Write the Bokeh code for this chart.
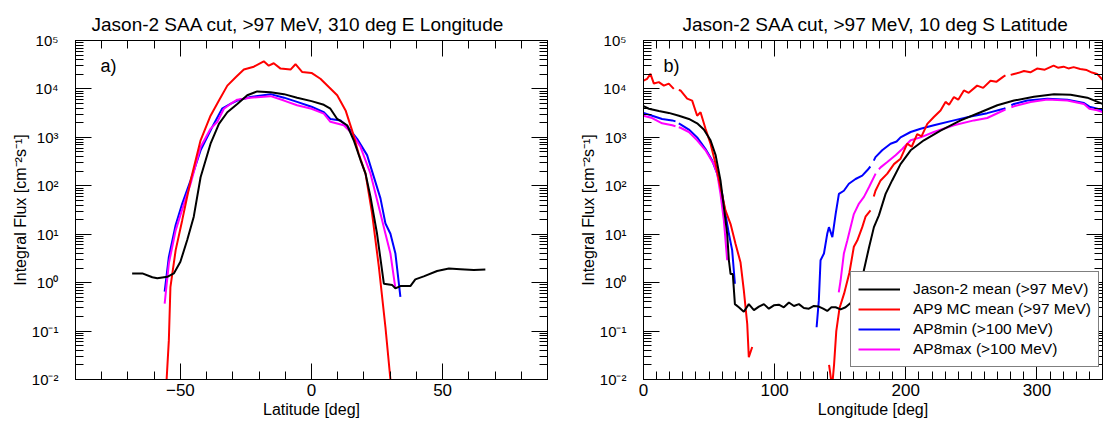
import math
from bokeh.plotting import figure
from bokeh.models import (FixedTicker, CustomJSTickFormatter, LinearAxis, LogAxis,
                          Legend, LegendItem, Label, Range1d)
from bokeh.layouts import row
from bokeh.embed import file_html
from bokeh.resources import INLINE

GAP = None
FONT = "Liberation Sans"

# ---------------- Panel a) : 310 deg E longitude, flux vs latitude ----------------
lat_jason = [-68.4, -64.5, -60.7, -58.8, -55.0, -52.5, -50.0, -47.4, -44.9, -42.3, -38.5, -35.3,
             -32.1, -28.3, -24.5, -20.7, -15.6, -10.5, -5.5, 0.0, 4.7, 7.2, 9.8, 13.6, 16.1,
             18.7, 20.6, 22.5, 25.0, 27.6, 30.8, 32.0, 33.9, 37.7, 39.6, 42.8, 47.9, 52.4,
             56.8, 61.9, 66.3]
flux_jason_a = [1.55, 1.55, 1.29, 1.23, 1.32, 1.55, 2.7, 7.6, 23, 150, 740, 1900,
                3300, 4900, 7400, 8900, 8500, 7800, 6600, 5600, 4700, 3900, 2400, 1780, 870,
                340, 178, 59, 10.2, 0.95, 0.89, 0.76, 0.85, 0.85, 1.17, 1.35, 1.74, 1.95,
                1.9, 1.82, 1.86]

lat_ap9 = [-55.8, -54.4, -53.8, -51.8, -49.3, -46.1, -42.3, -38.5, -35.3, -32.1, -28.9, -25.8,
           -22.0, -18.2, -16.3, -14.4, -11.8, -8.0, -6.1, -3.6, 0.0, 3.4, 6.6, 9.8, 13.0,
           15.5, 18.0, 20.6, 23.1, 25.7, 28.2, 30.1, 30.6]
flux_ap9_a = [0.003, 0.065, 0.81, 4.7, 19.5, 129, 870, 2800, 5750, 11700, 17400, 25100,
              28800, 37200, 30200, 33900, 26300, 25100, 32400, 22400, 21400, 16200, 11000, 7400, 3600,
              1380, 457, 178, 27, 2.1, 0.12, 0.01, 0.004]

lat_ap8min = [-56.0, -54.4, -51.8, -49.3, -46.1, -42.3, -37.9, -34.1, -30.9, -28.3, -23.3, -15.6,
              -10.5, -5.5, 0.0, 4.7, 7.2, 11.1, 13.6, 17.4, 21.2, 23.8, 26.3, 28.2, 30.1,
              32.0, 33.9]
flux_ap8min_a = [0.65, 3.4, 15.5, 43, 129, 540, 1620, 3900, 4900, 5750, 6800, 7800,
                 6600, 5400, 4300, 3300, 2400, 2240, 1700, 930, 430, 151, 55, 16.6, 10.2,
                 4.0, 0.51]

lat_ap8max = [-56.0, -54.4, -51.8, -48.6, -46.1, -42.3, -38.5, -35.9, -33.4, -30.9, -28.3, -23.3,
              -15.6, -10.5, -5.5, 0.0, 4.7, 7.2, 12.3, 15.5, 18.7, 22.5, 25.7, 28.2, 30.1, 32.0]
flux_ap8max_a = [0.37, 2.5, 12, 43, 110, 630, 1500, 2100, 3900, 4900, 6000, 6600,
                 7100, 5750, 4600, 3900, 3100, 2100, 1780, 1200, 630, 178, 36, 10.2, 4.0, 0.76]

# ---------------- Panel b) : 10 deg S latitude, flux vs longitude ----------------
# GAP marks a break in a curve
lon_jason = [0.0, 4.1, 11.7, 19.3, 27.0, 34.6, 40.9, 46.0, 51.1, 55.0, 58.7, 61.3, 63.8, 65.1,
             66.4, 68.1, 69.7, 72.7, 76.5, 80.3, 84.2, 88.0, 91.8, 95.6, 99.4, 103.2, 107.0,
             110.9, 114.7, 118.5, 122.3, 126.1, 129.9, 133.7, 137.0, 140.1, 143.3, 146.5,
             150.3, 154.1, 157.9, 161.0, 164.0, 166.5, 168.0, 172.0, 175.7, 179.5, 184.6,
             189.6, 196.0, 203.7, 213.8, 226.5, 241.8, 257.0, 269.8, 282.5, 297.7, 313.0,
             325.7, 338.4, 350.0]
flux_jason_b = [4400, 3900, 3500, 3200, 2800, 2400, 1950, 1450, 870, 430, 129, 36, 10.2, 2.9,
                1.5, 1.5, 0.36, 0.31, 0.25, 0.36, 0.27, 0.32, 0.36, 0.29, 0.34, 0.35, 0.31,
                0.39, 0.33, 0.36, 0.30, 0.29, 0.33, 0.32, 0.29, 0.26, 0.31, 0.31,
                0.28, 0.31, 0.38, 0.30, 0.40, 1.0, 1.78, 5.4, 14, 24.5, 68,
                129, 280, 540, 870, 1380, 2240, 3300, 4600, 5750, 6900, 7800,
                7600, 6600, 4900]

lon_ap9 = [0.0, 2.8, 5.3, 7.9, 11.7, 15.5, 19.3, 23.1, GAP, 26.9, 28.2, 33.3, 37.1, 40.9, 43.5,
           47.3, 51.1, 55.0, 58.7, 62.5, 66.4, 70.2, 74.0, 76.5, 79.1, 80.3, 82.9, GAP,
           141.5, 143.8, 145.3, 147.0, 149.5, 153.0, 157.0, 160.4, 163.0, 166.8, 169.3, 173.1,
           GAP, 175.6, 176.9, 180.8, 185.9, 191.0, 196.0, 201.1, 204.5, 208.7, 212.0, 216.4,
           221.4, 226.5, 230.3, 233.0, 236.7, 240.0, 244.3, 248.0, 254.4, 259.0, 264.6, 269.0,
           274.7, 276.0, GAP, 280.0, 282.5, 286.0, 290.1, 295.0, 300.1, 306.0, 312.7, 316.0,
           320.3, 324.0, 328.0, 333.0, 338.0, 342.0, 345.9, 350.0]
flux_ap9_b = [14800, 16200, 20400, 12900, 13800, 11700, 12900, 10000, GAP, 9500, 9300, 6300, 5750,
              2800, 3300, 1500, 740, 280, 93, 31, 16.2, 6.3, 2.6, 0.69, 0.14, 0.029, 0.047, GAP,
              0.02, 0.007, 0.02, 0.1, 0.3, 0.6, 1.6, 5.5, 7.4, 14, 23, 31,
              GAP, 60, 79, 129, 178, 280, 363, 740, 640, 1170, 1050, 1900,
              2630, 3600, 5400, 4700, 6800, 6000, 9300, 8300, 11700, 10500, 14800, 14000,
              18200, 19000, GAP, 19500, 20400, 21500, 23400, 22000, 26300, 25000, 30200, 27500,
              28800, 26500, 28200, 25800, 24500, 21800, 20400, 15500]

lon_ap8min = [0.0, 6.6, 14.2, 21.9, 24.4, GAP, 26.9, 28.2, 34.6, 40.9, 47.3, 52.4, 56.2, 60.0,
              62.5, 65.1, 67.6, 69.7, GAP,
              132.0, 133.7, 135.0, 137.6, 140.1, 141.4, 144.0, 146.5, 149.0, 152.8, 156.6, 161.7,
              166.8, 170.6, 173.0, GAP, 175.6, 176.9, 182.0, 188.4, 193.0, 196.0, 203.7, 211.3,
              221.4, 236.7, 249.4, 262.1, 274.7, 276.0, GAP, 280.5, 282.5, 292.7, 308.0, 323.2,
              335.9, 340.0, 346.0, 350.0]
flux_ap8min_b = [3200, 2800, 2400, 2240, 2140, GAP, 1950, 1860, 1450, 1000, 575, 331, 178, 68,
                 26, 10.2, 4.7, 0.95, GAP,
                 0.12, 0.43, 2.9, 4.0, 10.2, 14, 8.7, 26, 68, 79, 110, 138,
                 162, 209, 250, GAP, 330, 390, 540, 740, 820, 1000, 1290, 1510,
                 1780, 2240, 2690, 3160, 3890, 4000, GAP, 4600, 4900, 5750, 6300, 6000,
                 5100, 4300, 3900, 3630]

lon_ap8max = [0.0, 6.6, 14.2, 21.9, 24.4, GAP, 26.9, 28.2, 34.6, 40.9, 47.3, 53.6, 56.2, 58.7,
              61.3, 63.8, GAP,
              148.9, 150.3, 152.8, 155.4, 157.9, 160.4, 164.3, 168.1, 171.9, 177.0, GAP, 179.5,
              180.8, 185.9, 192.2, 197.3, 203.7, 211.3, 221.4, 236.7, 251.9, 262.1, 274.7, 276.0,
              GAP, 280.5, 282.5, 295.2, 308.0, 323.2, 335.9, 340.0, 346.0, 350.0]
flux_ap8max_b = [2800, 2500, 1950, 1780, 1700, GAP, 1620, 1580, 1290, 870, 540, 280, 178, 68,
                 19, 2.9, GAP,
                 0.63, 1.12, 4.0, 7.4, 14, 26, 43, 59, 93, 178, GAP, 220,
                 240, 309, 427, 575, 870, 1000, 1290, 1780, 2240, 2510, 3630, 3750,
                 GAP, 4200, 4370, 5370, 6030, 5750, 4900, 3900, 3630, 3310]

titles = ["Jason-2 SAA cut, >97 MeV, 310 deg E Longitude",
          "Jason-2 SAA cut, >97 MeV, 10 deg S Latitude"]
xlabels = ["Latitude [deg]", "Longitude [deg]"]
ylabel = "Integral Flux [cm\u207b\u00b2s\u207b\u00b9]"
legend_labels = ["Jason-2 mean (>97 MeV)", "AP9 MC mean (>97 MeV)",
                 "AP8min (>100 MeV)", "AP8max (>100 MeV)"]
colors = ["black", "#ff0000", "#0000ff", "#ff00ff"]

y_major = [1e-2, 1e-1, 1e0, 1e1, 1e2, 1e3, 1e4, 1e5]
y_minor = [k * 10.0 ** e for e in range(-2, 5) for k in range(2, 10)]


def segments(xs, ys):
    """Split a curve at GAP markers into separate pieces."""
    sx, sy, cx, cy = [], [], [], []
    for x, y in zip(xs, ys):
        if x is None or y is None:
            if cx:
                sx.append(cx); sy.append(cy)
            cx, cy = [], []
        else:
            cx.append(x); cy.append(y)
    if cx:
        sx.append(cx); sy.append(cy)
    return sx, sy


sup_fmt = CustomJSTickFormatter(code="""
const e = Math.round(Math.log10(tick));
const m = {'-':'\u207b','0':'\u2070','1':'\u00b9','2':'\u00b2','3':'\u00b3','4':'\u2074',
           '5':'\u2075','6':'\u2076','7':'\u2077','8':'\u2078','9':'\u2079'};
return '10' + String(e).split('').map(c => m[c]).join('');
""")
blank_fmt = CustomJSTickFormatter(code="return '';")


def style_axis(ax, show_labels=True, label_size="15px"):
    ax.axis_line_color = "black"
    ax.axis_line_width = 1
    ax.major_tick_in = 16
    ax.major_tick_out = 0
    ax.minor_tick_in = 8
    ax.minor_tick_out = 0
    ax.major_tick_line_color = "black"
    ax.minor_tick_line_color = "black"
    ax.major_label_text_font = FONT
    ax.major_label_text_font_size = label_size
    ax.major_label_text_color = "black"
    ax.axis_label_text_font = FONT
    ax.axis_label_text_font_size = "16px"
    ax.axis_label_text_font_style = "normal"
    ax.axis_label_text_color = "black"
    if not show_labels:
        ax.formatter = blank_fmt
        ax.major_label_standoff = 0


def make_fig(width, x0, x1, xmajor, xminor, left, right, title, toff, xlabel):
    p = figure(width=width, height=425, x_range=Range1d(x0, x1), y_range=Range1d(1e-2, 1e5),
               y_axis_type="log", output_backend="svg", toolbar_location=None,
               min_border_left=left, min_border_right=right, min_border_top=40,
               min_border_bottom=46)
    p.title.text = title
    p.title.text_font = FONT
    p.title.text_font_size = "19px"
    p.title.text_font_style = "normal"
    p.title.text_color = "black"
    p.title.align = "left"
    p.title.offset = toff
    p.title.standoff = 12
    p.grid.visible = False
    p.outline_line_color = "black"
    p.outline_line_width = 1
    p.background_fill_color = "white"
    p.border_fill_color = "white"

    xt = FixedTicker(ticks=xmajor, minor_ticks=xminor)
    yt = FixedTicker(ticks=y_major, minor_ticks=y_minor)

    p.xaxis[0].ticker = xt
    p.xaxis[0].axis_label = xlabel
    p.xaxis[0].axis_label_standoff = 2
    p.xaxis[0].major_label_standoff = 4
    style_axis(p.xaxis[0], label_size="17px")
    p.yaxis[0].ticker = yt
    p.yaxis[0].formatter = sup_fmt
    p.yaxis[0].axis_label = ylabel
    p.yaxis[0].major_label_standoff = 17
    p.yaxis[0].axis_label_standoff = 0
    style_axis(p.yaxis[0], label_size="15px")

    top = LinearAxis(ticker=xt)
    style_axis(top, show_labels=False)
    p.add_layout(top, "above")
    rgt = LogAxis(ticker=yt)
    style_axis(rgt, show_labels=False)
    p.add_layout(rgt, "right")
    return p


pa = make_fig(560, -90, 90, [-50, 0, 50], list(range(-90, 91, 10)), 75, 13, titles[0], 16, xlabels[0])
pb = make_fig(547, 0, 350, [0, 100, 200, 300], list(range(0, 351, 10)), 83, 5, titles[1], 39, xlabels[1])

LW = 2
# panel a
pa.line(lat_ap8min, flux_ap8min_a, line_color=colors[2], line_width=LW)
pa.line(lat_ap8max, flux_ap8max_a, line_color=colors[3], line_width=LW)
pa.line(lat_ap9, flux_ap9_a, line_color=colors[1], line_width=LW)
pa.line(lat_jason, flux_jason_a, line_color=colors[0], line_width=LW)

# panel b
bx, by = segments(lon_ap8min, flux_ap8min_b)
r_blue = pb.multi_line(bx, by, line_color=colors[2], line_width=LW)
mx, my = segments(lon_ap8max, flux_ap8max_b)
r_mag = pb.multi_line(mx, my, line_color=colors[3], line_width=LW)
rx, ry = segments(lon_ap9, flux_ap9_b)
r_red = pb.multi_line(rx, ry, line_color=colors[1], line_width=LW)
r_blk = pb.line(lon_jason, flux_jason_b, line_color=colors[0], line_width=LW)

legend = Legend(items=[LegendItem(label=legend_labels[0], renderers=[r_blk]),
                       LegendItem(label=legend_labels[1], renderers=[r_red]),
                       LegendItem(label=legend_labels[2], renderers=[r_blue]),
                       LegendItem(label=legend_labels[3], renderers=[r_mag])],
                location=(207, 12))
legend.label_text_font = FONT
legend.label_text_font_size = "15.5px"
legend.label_text_color = "black"
legend.glyph_width = 42
legend.glyph_height = 20
legend.label_height = 20
legend.label_width = 178
legend.label_standoff = 13
legend.spacing = 0
legend.padding = 7
legend.margin = 0
legend.border_line_color = "black"
legend.border_line_width = 1
legend.background_fill_alpha = 1
pb.add_layout(legend)

for p, xx, txt in ((pa, -80.5, "a)"), (pb, 15.3, "b)")):
    p.add_layout(Label(x=xx, y=29500, text=txt, text_font=FONT, text_font_size="18px",
                       text_baseline="middle", text_color="black"))

layout = row(pa, pb)
open("out.html", "w").write(file_html(layout, INLINE))
